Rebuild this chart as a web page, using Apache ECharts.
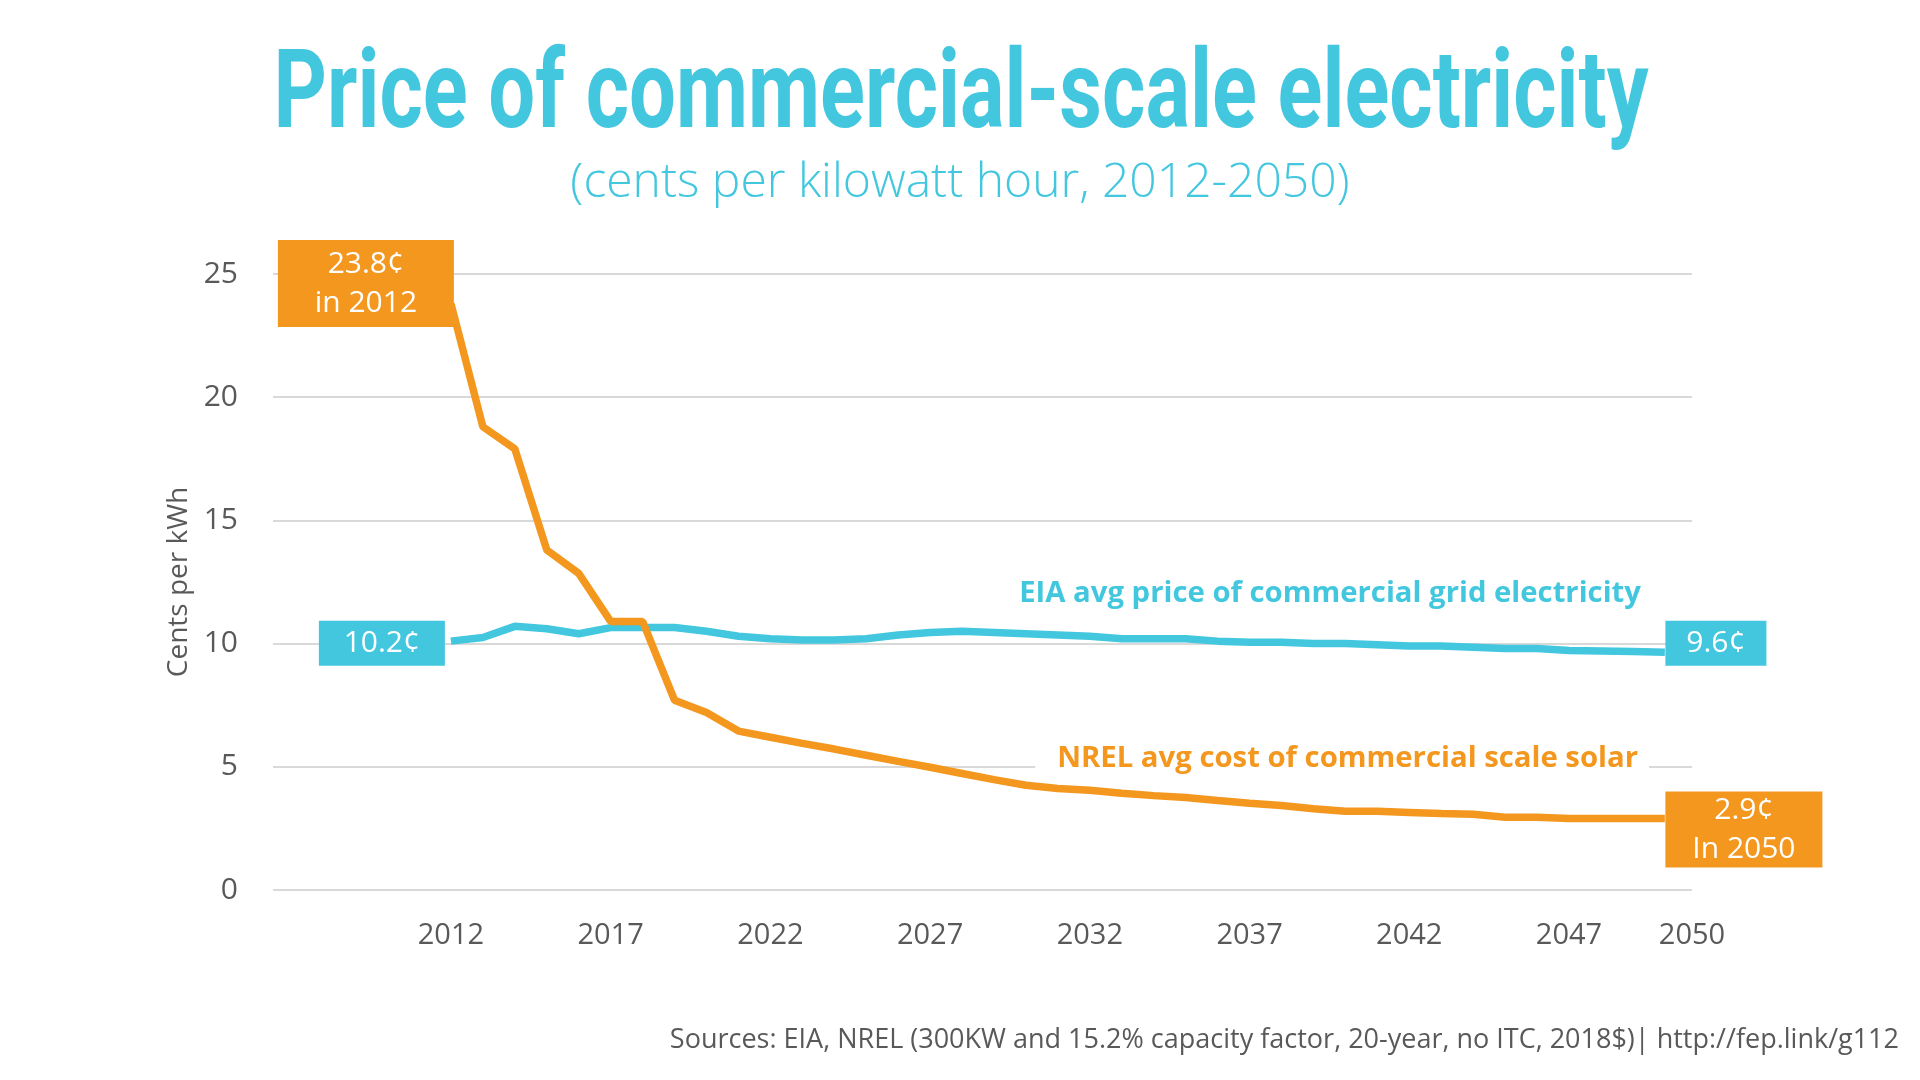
<!DOCTYPE html>
<html>
<head>
<meta charset="utf-8">
<script src="https://cdn.jsdelivr.net/npm/echarts@6/dist/echarts.min.js"></script>
<style>
  html, body { margin: 0; padding: 0; background: #ffffff; }
  #chart { width: 1920px; height: 1080px; }
</style>
</head>
<body>
<div id="chart"></div>
<script>
// ---- Data ----
const years = [2012, 2013, 2014, 2015, 2016, 2017, 2018, 2019, 2020, 2021,
  2022, 2023, 2024, 2025, 2026, 2027, 2028, 2029, 2030, 2031,
  2032, 2033, 2034, 2035, 2036, 2037, 2038, 2039, 2040, 2041,
  2042, 2043, 2044, 2045, 2046, 2047, 2048, 2049, 2050];

const eiaPrice = [10.1, 10.25, 10.7, 10.6, 10.4, 10.65, 10.65, 10.65, 10.5, 10.3,
  10.2, 10.15, 10.15, 10.2, 10.35, 10.45, 10.5, 10.45, 10.4, 10.35,
  10.3, 10.2, 10.2, 10.2, 10.1, 10.05, 10.05, 10.0, 10.0, 9.95,
  9.9, 9.9, 9.85, 9.8, 9.8, 9.72, 9.7, 9.68, 9.65];

const nrelCost = [23.8, 18.8, 17.9, 13.8, 12.85, 10.9, 10.9, 7.7, 7.2, 6.45,
  6.2, 5.95, 5.72, 5.47, 5.22, 4.98, 4.73, 4.48, 4.25, 4.12,
  4.05, 3.93, 3.83, 3.75, 3.63, 3.52, 3.43, 3.3, 3.2, 3.2,
  3.15, 3.1, 3.07, 2.95, 2.95, 2.9, 2.9, 2.9, 2.9];

const xTickYears = [2012, 2017, 2022, 2027, 2032, 2037, 2042, 2047];
const xEndLabel = '2050';
const yTicks = [0, 5, 10, 15, 20, 25];

const titleText = 'Price of commercial-scale electricity';
const subtitleText = '(cents per kilowatt hour, 2012-2050)';
const yAxisName = 'Cents per kWh';
const eiaName = 'EIA avg price of commercial grid electricity';
const nrelName = 'NREL avg cost of commercial scale solar';
const sourceText = 'Sources: EIA, NREL (300KW and 15.2% capacity factor, 20-year, no ITC, 2018$)| http://fep.link/g112';

const eiaStartLabel = '10.2¢';
const eiaEndLabel = '9.6¢';
const nrelStartLabel = '23.8¢\nin 2012';
const nrelEndLabel = '2.9¢\nIn 2050';

// ---- Styling ----
const BLUE = '#42C7DF';
const ORANGE = '#F3971F';
const GREY = '#595959';
const GRID = '#D9D9D9';
const FONT = "'Open Sans', 'Noto Sans', sans-serif";

const xMin = 2006.43, xMax = 2050.85;

const eiaData = years.map((y, i) => [y, eiaPrice[i]]);
const nrelData = years.map((y, i) => [y, nrelCost[i]]);

const chart = echarts.init(document.getElementById('chart'), null, { renderer: 'canvas' });

const option = {
  backgroundColor: '#ffffff',
  animation: false,
  grid: { left: 273, right: 228, top: 274, bottom: 190, containLabel: false },
  xAxis: {
    type: 'value',
    min: xMin,
    max: xMax,
    axisLine: { show: false },
    axisTick: { show: false },
    splitLine: { show: false },
    axisLabel: {
      customValues: xTickYears.concat([xMax]),
      formatter: function (v) { return v > 2049 ? xEndLabel : String(Math.round(v)); },
      color: GREY,
      fontFamily: FONT,
      fontSize: 29,
      margin: 31,
      showMaxLabel: true,
      showMinLabel: true
    }
  },
  yAxis: {
    type: 'value',
    min: yTicks[0],
    max: yTicks[yTicks.length - 1],
    interval: 5,
    name: yAxisName,
    nameLocation: 'middle',
    nameRotate: 90,
    nameGap: 80,
    nameTextStyle: { color: GREY, fontFamily: FONT, fontSize: 28 },
    axisLine: { show: false },
    axisTick: { show: false },
    axisLabel: { color: GREY, fontFamily: FONT, fontSize: 30, margin: 35 },
    splitLine: { lineStyle: { color: GRID, width: 2 } }
  },
  series: [
    {
      name: eiaName,
      type: 'line',
      data: eiaData,
      showSymbol: false,
      lineStyle: { color: BLUE, width: 7.5 },
      itemStyle: { color: BLUE },
      z: 3,
      markPoint: {
        symbol: 'circle',
        symbolSize: 0.1,
        itemStyle: { color: 'rgba(0,0,0,0)' },
        data: [
          {
            coord: eiaData[0],
            label: {
              show: true, formatter: eiaStartLabel, position: 'left', distance: 6, offset: [-63, 2],
              color: '#ffffff', fontFamily: FONT, fontSize: 30, lineHeight: 37,
              backgroundColor: BLUE, width: 126, height: 37, padding: [4, 0, 4, 0], align: 'center'
            }
          },
          {
            coord: eiaData[eiaData.length - 1],
            label: {
              show: true, formatter: eiaEndLabel, position: 'right', distance: 0, offset: [51, -9],
              color: '#ffffff', fontFamily: FONT, fontSize: 30, lineHeight: 37,
              backgroundColor: BLUE, width: 101, height: 37, padding: [4, 0, 4, 0], align: 'center'
            }
          }
        ]
      }
    },
    {
      name: nrelName,
      type: 'line',
      data: nrelData,
      showSymbol: false,
      lineStyle: { color: ORANGE, width: 7.5 },
      itemStyle: { color: ORANGE },
      z: 4,
      markPoint: {
        symbol: 'circle',
        symbolSize: 0.1,
        itemStyle: { color: 'rgba(0,0,0,0)' },
        data: [
          {
            coord: nrelData[0],
            label: {
              show: true, formatter: nrelStartLabel, position: 'left', distance: 0, offset: [-85, -20],
              color: '#ffffff', fontFamily: FONT, fontSize: 30, lineHeight: 39,
              backgroundColor: ORANGE, width: 176, height: 78, padding: [5, 0, 4, 0], align: 'center'
            }
          },
          {
            coord: nrelData[nrelData.length - 1],
            label: {
              show: true, formatter: nrelEndLabel, position: 'right', distance: 0, offset: [79, 11],
              color: '#ffffff', fontFamily: FONT, fontSize: 30, lineHeight: 39,
              backgroundColor: ORANGE, width: 157, height: 76, padding: [0, 0, 0, 0], align: 'center'
            }
          }
        ]
      }
    }
  ],
  graphic: [
    {
      type: 'text', x: 961, y: 100, scaleX: 0.763, scaleY: 1,
      style: { text: titleText, fill: BLUE, font: "bold 109px Roboto, 'Open Sans', sans-serif", textAlign: 'center', textVerticalAlign: 'middle' }
    },
    {
      type: 'text', x: 960, y: 183,
      style: { text: subtitleText, fill: BLUE, font: "300 48px 'Open Sans', sans-serif", textAlign: 'center', textVerticalAlign: 'middle' }
    },
    {
      type: 'text', x: 1641, y: 594,
      style: { text: eiaName, fill: BLUE, font: "bold 29.3px 'Open Sans', sans-serif", textAlign: 'right', textVerticalAlign: 'middle' }
    },
    {
      type: 'text', x: 1649, y: 759, z: 10,
      style: { text: nrelName, fill: ORANGE, font: "bold 29.3px 'Open Sans', sans-serif", textAlign: 'right', textVerticalAlign: 'middle',
        backgroundColor: '#ffffff', padding: [0, 11, 0, 22] }
    },
    {
      type: 'text', x: 1899, y: 1040,
      style: { text: sourceText, fill: GREY, font: "27px 'Open Sans', sans-serif", textAlign: 'right', textVerticalAlign: 'middle' }
    }
  ]
};

chart.setOption(option);
</script>
</body>
</html>
